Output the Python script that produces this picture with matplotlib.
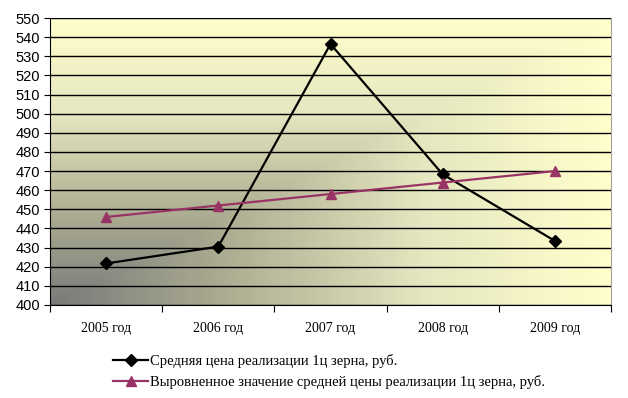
import numpy as np
import matplotlib
matplotlib.use("Agg")
from matplotlib import pyplot as plt
from matplotlib.colors import LinearSegmentedColormap

years = ["2005 год", "2006 год", "2007 год", "2008 год", "2009 год"]
price = [421.7, 430.5, 536.4, 468.3, 433.5]
trend = [446, 452, 458, 464, 470]
label_price = "Средняя цена реализации 1ц зерна, руб."
label_trend = "Выровненное значение средней цены реализации 1ц зерна, руб."

fig = plt.figure(figsize=(6.28, 3.98), dpi=100)
ax = fig.add_axes([50/628, 93/398, 561/628, 287/398])

# background gradient from bottom-left corner (grey) to light yellow
u, v = np.meshgrid(np.linspace(0, 1, 300), np.linspace(0, 1, 200))
t = np.maximum(u, v)
cmap = LinearSegmentedColormap.from_list("bg", ["#7A7A7A", "#B0B094", "#E6E6C0", "#FFFFCC"])
ax.imshow(t, cmap=cmap, origin="lower", extent=[-0.5, 4.5, 400, 550],
          aspect="auto", zorder=0, interpolation="bilinear")

x = np.arange(len(years))
ax.plot(x, price, color="black", lw=1.6, marker="D", ms=6, zorder=3)
ax.plot(x, trend, color="#993366", lw=1.6, marker="^", ms=7, zorder=3)

ax.set_xlim(-0.5, 4.5)
ax.set_ylim(400, 550)
ax.set_yticks(range(400, 551, 10))
ax.yaxis.grid(True, color="black", lw=1)
ax.set_axisbelow(False)
for gl in ax.get_ygridlines():
    gl.set_zorder(1)

ax.set_xticks(np.arange(-0.5, 5, 1))
ax.set_xticklabels([])
ax.set_xticks(x, minor=True)
ax.set_xticklabels(years, minor=True, fontfamily="Liberation Serif", fontsize=10)
ax.tick_params(axis="x", which="major", length=5, direction="out", color="black")
ax.tick_params(axis="x", which="minor", length=0, pad=12)
ax.tick_params(axis="y", length=4, direction="out", labelsize=10.5, pad=3)
for lab in ax.get_yticklabels():
    lab.set_fontfamily("Liberation Sans")

ax.spines["left"].set_color("black")
ax.spines["bottom"].set_color("black")
ax.spines["top"].set_color("#A0A0A0")
ax.spines["right"].set_color("#A0A0A0")

leg = fig.legend([ax.lines[0], ax.lines[1]], [label_price, label_trend],
                 loc="upper left", bbox_to_anchor=(100/628, 1 - 341/398),
                 frameon=False, handlelength=2.4, handletextpad=0.1,
                 labelspacing=0.5, prop={"family": "Liberation Serif", "size": 10.5})

fig.savefig("out.png", dpi=100)
